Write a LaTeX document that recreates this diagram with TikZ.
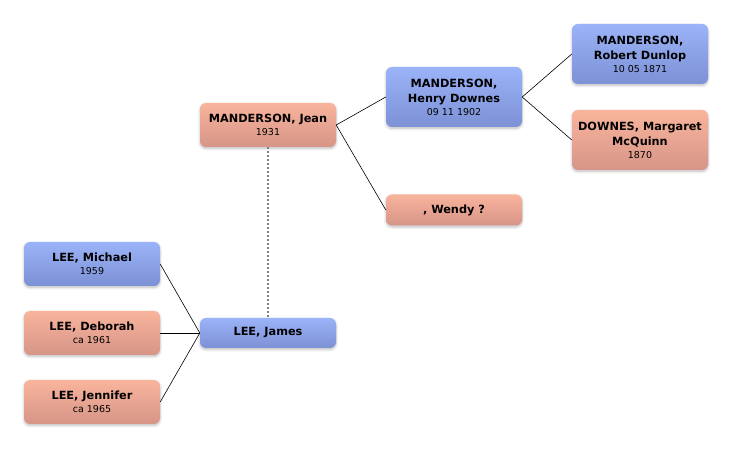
\documentclass[tikz,border=0pt]{standalone}
\usepackage{fontspec}
\setmainfont{DejaVu Sans}
\usetikzlibrary{shadows.blur}
\definecolor{maletop}{HTML}{9BB3F8}
\definecolor{malebot}{HTML}{7D91D5}
\definecolor{femtop}{HTML}{F9B49C}
\definecolor{fembot}{HTML}{D69588}
\newcommand{\pdate}[1]{{\fontsize{9.5}{12}\selectfont\mdseries #1}}
\begin{document}
\begin{tikzpicture}[x=1pt,y=-1pt,line join=round,
    person/.style={rounded corners=6pt,minimum width=136pt,align=center,inner sep=0pt,
        font=\fontsize{11.3}{15.5}\selectfont\bfseries,
        blur shadow={shadow blur steps=6,shadow xshift=0pt,shadow yshift=-1.5pt,shadow blur radius=2.5pt,shadow opacity=25}},
    male/.style={person,top color=maletop,bottom color=malebot},
    female/.style={person,top color=femtop,bottom color=fembot},
    link/.style={black,line width=.6pt}]
    \useasboundingbox (0,0) rectangle (732,449);
    % children
    \node[male,minimum height=44pt]   (michael)  at (92,264) {LEE, Michael\\[-2.5pt]\pdate{1959}};
    \node[female,minimum height=44pt] (deborah)  at (92,333) {LEE, Deborah\\[-2.5pt]\pdate{ca 1961}};
    \node[female,minimum height=44pt] (jennifer) at (92,402) {LEE, Jennifer\\[-2.5pt]\pdate{ca 1965}};
    % parents
    \node[male,minimum height=30pt]   (james) at (268,333) {LEE, James};
    \node[female,minimum height=44pt] (jean)  at (268,125) {MANDERSON, Jean\\[-2.5pt]\pdate{1931}};
    % grandparents
    \node[male,minimum height=60pt]   (henry) at (454,97) {MANDERSON,\\Henry Downes\\[-3pt]\pdate{09 11 1902}};
    \node[female,minimum height=31pt] (wendy) at (454,210) {, Wendy ?};
    % great-grandparents
    \node[male,minimum height=60pt]   (robert)   at (640,54) {MANDERSON,\\Robert Dunlop\\[-3pt]\pdate{10 05 1871}};
    \node[female,minimum height=60pt] (margaret) at (640,140) {DOWNES, Margaret\\McQuinn\\[-3pt]\pdate{1870}};
    \draw[link] (michael.east) -- (james.west);
    \draw[link] (deborah.east) -- (james.west);
    \draw[link] (jennifer.east) -- (james.west);
    \draw[link] (jean.east) -- (henry.west);
    \draw[link] (jean.east) -- (wendy.west);
    \draw[link] (henry.east) -- (robert.west);
    \draw[link] (henry.east) -- (margaret.west);
    \draw[gray,line width=1.3pt,dash pattern=on 2pt off 2pt] (jean.south) -- (james.north);
\end{tikzpicture}
\end{document}
